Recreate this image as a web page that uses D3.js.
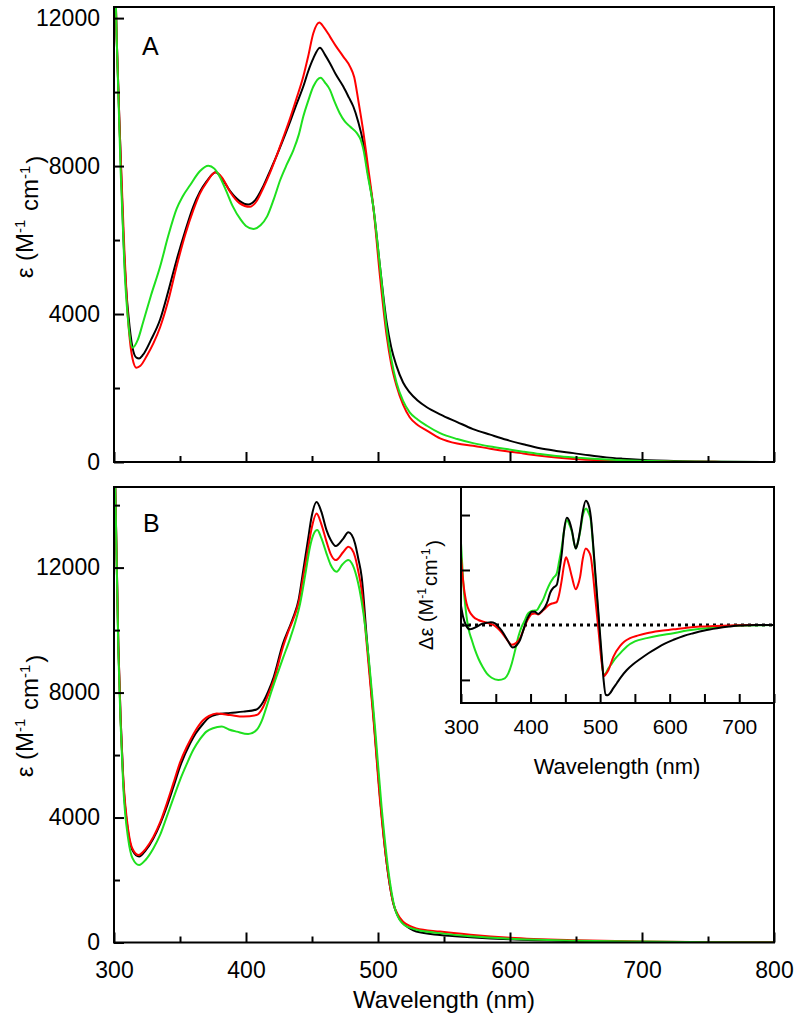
<!DOCTYPE html>
<html><head><meta charset="utf-8">
<script src="https://cdn.jsdelivr.net/npm/d3@7"></script>
<style>body{margin:0;background:#fff}</style>
</head><body><svg id="c" width="800" height="1022"></svg>
<script>
// ---------- DATA ----------
const wlTicksMain = [300,400,500,600,700,800];
const wlTicksMainMinor = [350,450,550,650,750];
const epsTicksA = [0,4000,8000,12000];
const epsTicksAMinor = [2000,6000,10000];
const epsTicksB = [0,4000,8000,12000];
const epsTicksBMinor = [2000,6000,10000,14000];
const wlTicksInset = [300,350,400,450,500,550,600,650,700,750];
const dEpsTicksInset = [-1,0,1,2];
const seriesNames = ["black","red","green"];
const seriesColors = ["#000000","#ff0000","#1ee01e"];

// Panel A (wavelength nm, epsilon M-1 cm-1)
const aBlack = [[300,14500],[302,11500],[305,8300],[307,6200],[309,4800],[311,3940],[314,3100],[317,2820],[319,2800],[322,2900],[328,3300],[335,3860],[341,4600],[347.5,5470],[354,6250],[360,6900],[365,7300],[370,7580],[377,7830],[382,7650],[388,7320],[395,7060],[401.7,6960],[407,7080],[413,7450],[418,7850],[423,8260],[428,8700],[433,9160],[438,9650],[443.4,10150],[447,10550],[451,10910],[456,11200],[460,11000],[463.6,10780],[468,10480],[473.7,10150],[478,9850],[481.3,9610],[485,9200],[488.9,8620],[492,7900],[496.4,6910],[501.5,5290],[506.6,3770],[510,3100],[514,2600],[519,2150],[524,1880],[530,1660],[537,1480],[547,1290],[560,1080],[572,890],[585,740],[597.5,600],[610,480],[622.7,370],[635,300],[648,240],[660,180],[673,125],[685,90],[698,60],[711,40],[724,30],[740,15],[760,5],[800,0]];
const aRed = [[300,14500],[302,11500],[305,8300],[308,5600],[310,4200],[312,3300],[314,2800],[317,2550],[320,2600],[325,2880],[330,3220],[335,3650],[341,4350],[347.5,5300],[354,6150],[360,6800],[365,7250],[370,7550],[377,7830],[382,7680],[388,7300],[395,7000],[403,6900],[408,7050],[413,7400],[418,7800],[423,8260],[428,8750],[433,9250],[438,9800],[443.4,10420],[447,10950],[451,11590],[455.5,11880],[459,11750],[463.6,11500],[468,11250],[473.7,10960],[478.8,10690],[482,10400],[485,9790],[489,8900],[492,8100],[496.4,6910],[501.5,5020],[506.6,3400],[510,2650],[514,2060],[519,1550],[524,1210],[530,1000],[537,850],[547,640],[560,500],[572,440],[585,360],[597.5,290],[610,230],[622.7,170],[635,120],[648,80],[673,40],[698,20],[724,10],[760,3],[800,0]];
const aGreen = [[300,14500],[302,11500],[305,7900],[308,5200],[311,3700],[314,3090],[318,3300],[322,3770],[328,4500],[335,5290],[341,6100],[347.5,6850],[352,7180],[357.6,7480],[365,7860],[371.5,8010],[376,7930],[380,7720],[385,7330],[390,6910],[396,6550],[400,6380],[405.6,6300],[411,6400],[416,6640],[421,7100],[426,7630],[431,8050],[436,8440],[440,8850],[443.4,9340],[447,9750],[451,10150],[456.6,10390],[460,10250],[463.6,10060],[467,9750],[471,9430],[475,9200],[478.8,9070],[484,8890],[487,8700],[489,8440],[492,7800],[496.4,6910],[501.5,5290],[506.6,3590],[510,2800],[514,2150],[519,1650],[524,1340],[530,1150],[537,980],[547,780],[560,620],[572,510],[585,420],[597.5,350],[610,280],[622.7,215],[635,165],[648,125],[660,95],[673,70],[698,35],[724,15],[750,5],[800,0]];

// Panel B
const bBlack = [[300,16000],[301,14500],[303.3,9500],[305,7200],[307,5200],[310.8,3500],[314,2950],[319,2750],[324,2950],[329.8,3330],[335,3800],[340,4350],[345,4980],[350,5630],[357.6,6370],[362,6700],[367.7,7010],[372,7200],[377.8,7300],[388,7350],[398,7390],[408,7460],[413,7700],[417,8050],[421,8500],[428,9570],[432,10000],[436,10430],[440,11000],[443.4,11920],[447,12900],[449.7,13630],[453.5,14100],[457,13800],[461,13200],[464,12900],[468,12690],[473.7,12930],[477.5,13130],[480,13050],[482.6,12770],[485,12300],[487.6,11710],[491.4,9790],[496.4,7330],[501.5,4670],[506.6,2530],[511.6,1250],[515,850],[519,610],[524,450],[529,350],[547,240],[570,170],[600,100],[650,40],[700,10],[750,3],[800,0]];
const bRed = [[300,16000],[301,14500],[303.3,9500],[305,7200],[307,5300],[310.8,3600],[314,3000],[318.5,2800],[324,3000],[329.8,3380],[335,3850],[340,4450],[345,5100],[350,5760],[355,6250],[358,6500],[362,6800],[367.7,7120],[372,7250],[377.8,7330],[388,7280],[398,7230],[408,7280],[413,7540],[417,7950],[421,8390],[428,9460],[432,9950],[436,10370],[440,10900],[443.4,11710],[447,12600],[449.7,13250],[453.5,13730],[457,13400],[461,12830],[464,12450],[468,12240],[473.7,12500],[477.5,12670],[480,12600],[482.6,12350],[485,11900],[487.6,11280],[491.4,9570],[496.4,7230],[501.5,4560],[506.6,2530],[511.6,1250],[515,900],[519,670],[524,530],[529,450],[547,350],[570,250],[600,150],[650,70],[700,30],[750,15],[800,5]];
const bGreen = [[300,16000],[301,14500],[303.3,9300],[305,7000],[307,5000],[310.8,3300],[314,2700],[319,2480],[324,2650],[329.8,3010],[335,3450],[340,4030],[345,4620],[350,5200],[355,5700],[360,6160],[365,6500],[370,6750],[375,6860],[381.6,6910],[387,6820],[393,6750],[401.6,6670],[408,6800],[412,7100],[415.6,7550],[419,8000],[423,8500],[428,9100],[433,9680],[437,10200],[441,10850],[445,11800],[448.5,12670],[451,13050],[454,13200],[457,12950],[461,12450],[464,12100],[468.7,11870],[473,12100],[477.5,12240],[480,12150],[483.8,11710],[486,11300],[489,10530],[492.6,9250],[497.7,6900],[502.7,4350],[507.8,2320],[512.8,1090],[516,750],[520,560],[525,460],[530,400],[547,300],[570,200],[600,120],[650,60],[700,30],[750,10],[800,0]];

// Inset (difference spectra, arbitrary tick units)
const iBlack = [[300,0.35],[303,0.15],[307,0.0],[313,-0.08],[323,-0.03],[330,0.02],[337,0.04],[343,0.05],[349,0.03],[355,-0.05],[361,-0.15],[368,-0.3],[374.4,-0.41],[380,-0.37],[385,-0.27],[390,-0.08],[394.5,0.09],[398,0.18],[401.7,0.24],[406,0.24],[411,0.2],[416,0.25],[421,0.33],[425,0.45],[428,0.58],[433,0.68],[437.7,0.73],[441,0.95],[444.9,1.3],[448,1.7],[452,1.95],[456,1.88],[459.3,1.73],[465,1.39],[468,1.5],[471.3,1.73],[475,2.05],[479.4,2.26],[483,2.2],[486.6,1.97],[489.5,1.55],[492.8,1.0],[497.6,0.21],[502.4,-0.58],[505,-1.0],[508,-1.27],[511,-1.28],[514.4,-1.24],[519,-1.15],[524,-1.06],[530,-0.95],[538.4,-0.82],[547,-0.72],[557.6,-0.62],[570,-0.51],[581.6,-0.42],[593,-0.34],[605.5,-0.27],[620,-0.2],[634,-0.15],[650,-0.1],[668,-0.06],[685,-0.03],[700,-0.01],[725,0],[750,0]];
const iRed = [[300,1.24],[303.4,0.76],[308,0.39],[312,0.25],[317.7,0.15],[325,0.09],[332,0.06],[340,0.03],[346.6,0.0],[352,-0.05],[358.6,-0.14],[365,-0.25],[373,-0.36],[379,-0.33],[385,-0.24],[390,-0.08],[394.5,0.06],[398,0.14],[401.7,0.2],[406,0.21],[411,0.19],[416,0.24],[421,0.3],[426,0.36],[430.7,0.39],[434,0.4],[437.7,0.42],[441,0.55],[444.9,0.82],[448,1.08],[451,1.23],[455,1.1],[459.3,0.88],[465,0.65],[468,0.72],[471.3,0.88],[475,1.2],[479.4,1.39],[483,1.35],[486.6,1.24],[489.5,0.95],[492.8,0.52],[497.6,-0.09],[502.4,-0.7],[505.7,-0.93],[508,-0.9],[512,-0.82],[519,-0.58],[528.8,-0.38],[535,-0.3],[543,-0.24],[555,-0.19],[567,-0.15],[585,-0.11],[605.5,-0.08],[625,-0.05],[644,-0.03],[665,-0.02],[687,-0.01],[720,0],[750,0]];
const iGreen = [[300,1.49],[303,0.82],[308,0.15],[311,-0.08],[315.4,-0.27],[320,-0.45],[325,-0.61],[331,-0.76],[337,-0.88],[344,-0.96],[353.7,-1.0],[363,-0.97],[368,-0.88],[373,-0.7],[378,-0.45],[382.5,-0.21],[387,-0.04],[392,0.09],[395,0.18],[399.5,0.24],[404,0.26],[409,0.27],[414,0.37],[418.7,0.48],[423,0.62],[428,0.76],[433,0.86],[437.7,0.94],[441,1.15],[444.9,1.42],[448,1.7],[452,1.91],[456,1.82],[459.3,1.7],[465,1.39],[468,1.5],[471.3,1.7],[475,1.98],[480,2.12],[483,2.05],[486.6,1.91],[489.5,1.5],[492.8,0.94],[497.6,0.15],[502.4,-0.64],[505,-0.91],[508,-0.88],[512,-0.79],[517,-0.7],[522,-0.61],[530,-0.5],[538.4,-0.39],[550,-0.3],[567,-0.24],[585,-0.19],[605.5,-0.15],[625,-0.1],[644,-0.07],[665,-0.04],[687,-0.02],[710,-0.01],[750,0]];

// ---------- DRAW ----------
const FONT = "Arial, 'Liberation Sans', sans-serif";
const svg = d3.select("#c");
svg.append("rect").attr("width",800).attr("height",1022).attr("fill","#fff");

const xA = d3.scaleLinear().domain([300,800]).range([114,774]);
const yA = d3.scaleLinear().domain([0,12300]).range([462,7]);
const yB = d3.scaleLinear().domain([0,14580]).range([942.5,487]);
const xI = d3.scaleLinear().domain([300,750]).range([461,774]);
const yI = d3.scaleLinear().domain([-1.42,2.51]).range([703,487]);

let clipId = 0;
function drawPanel(x, y, series, order, opt) {
  const g = svg.append("g");
  const [x0,x1] = x.range(); const [yb,yt] = y.range();
  if (opt.fill) g.append("rect").attr("x",x0).attr("y",yt).attr("width",x1-x0).attr("height",yb-yt).attr("fill","#fff");
  const id = "clip"+(clipId++);
  g.append("clipPath").attr("id",id).append("rect").attr("x",x0).attr("y",yt).attr("width",x1-x0).attr("height",yb-yt);
  const plot = g.append("g").attr("clip-path",`url(#${id})`);
  if (opt.zeroLine) {
    plot.append("line").attr("x1",x0).attr("x2",x1).attr("y1",y(0)).attr("y2",y(0))
      .attr("stroke","#000").attr("stroke-width",3).attr("stroke-dasharray","3,4");
  }
  const line = d3.line().x(d=>x(d[0])).y(d=>y(d[1])).curve(d3.curveMonotoneX);
  order.forEach(i => {
    plot.append("path").datum(series[i]).attr("d",line).attr("fill","none")
      .attr("stroke",seriesColors[i]).attr("stroke-width",2).attr("stroke-linejoin","round");
  });
  const style = sel => { sel.select(".domain").remove(); sel.selectAll("line").attr("stroke","#000").attr("stroke-width",2);
    sel.attr("font-family",FONT).attr("font-size",opt.fs); sel.selectAll("text").attr("fill","#000"); };
  if (opt.xMinor) g.append("g").attr("transform",`translate(0,${yb})`)
      .call(d3.axisBottom(x).tickValues(opt.xMinor).tickSize(-opt.minorLen).tickFormat("")).call(style);
  g.append("g").attr("transform",`translate(0,${yb})`)
      .call(d3.axisBottom(x).tickValues(opt.xTicks).tickSize(-opt.majorLen).tickPadding(opt.xPad)
        .tickFormat(opt.xFormat)).call(style);
  if (opt.yMinor) g.append("g").attr("transform",`translate(${x0},0)`)
      .call(d3.axisLeft(y).tickValues(opt.yMinor).tickSize(-opt.minorLen).tickFormat("")).call(style);
  g.append("g").attr("transform",`translate(${x0},0)`)
      .call(d3.axisLeft(y).tickValues(opt.yTicks).tickSize(-opt.majorLen).tickPadding(14)
        .tickFormat(opt.yFormat)).call(style);
  g.append("rect").attr("x",x0).attr("y",yt).attr("width",x1-x0).attr("height",yb-yt)
    .attr("fill","none").attr("stroke","#000").attr("stroke-width",2);
  return g;
}

function yTitle(cx, cy, main, fs) {
  const t = svg.append("text").attr("transform",`translate(${cx},${cy}) rotate(-90)`)
    .attr("text-anchor","middle").attr("font-family",FONT).attr("font-size",fs).attr("fill","#000");
  main.forEach(p => {
    if (p.sup) {
      t.append("tspan").attr("dy","-0.55em").attr("font-size",fs*0.62).text(p.t);
      t.append("tspan").attr("dy","0.55em").text("\u200A");
    } else t.append("tspan").text(p.t);
  });
}
function label(x, y, txt, fs, anchor) {
  svg.append("text").attr("x",x).attr("y",y).attr("text-anchor",anchor||"start")
    .attr("font-family",FONT).attr("font-size",fs).attr("fill","#000").text(txt);
}

const fmt = d3.format("d");
// Panel A
drawPanel(xA, yA, [aBlack,aRed,aGreen], [0,1,2], {
  xTicks: wlTicksMain, xMinor: wlTicksMainMinor, yTicks: epsTicksA, yMinor: epsTicksAMinor,
  xFormat: "", yFormat: fmt, majorLen: 10, minorLen: 6, xPad: 18, fs: 23 });
label(142, 55, "A", 25);
yTitle(33, 217, [{t:"\u03B5 (M"},{t:"-1",sup:1},{t:" cm"},{t:"-1",sup:1},{t:")"}], 24);

// Panel B
drawPanel(xA, yB, [bBlack,bRed,bGreen], [0,1,2], {
  xTicks: wlTicksMain, xMinor: wlTicksMainMinor, yTicks: epsTicksB, yMinor: epsTicksBMinor,
  xFormat: fmt, yFormat: fmt, majorLen: 10, minorLen: 6, xPad: 19, fs: 23 });
label(143, 532, "B", 25);
yTitle(33, 716, [{t:"\u03B5 (M"},{t:"-1",sup:1},{t:" cm"},{t:"-1",sup:1},{t:")"}], 24);
label(444, 1008, "Wavelength (nm)", 24, "middle");

// Inset
drawPanel(xI, yI, [iBlack,iRed,iGreen], [2,1,0], {
  xTicks: wlTicksInset, xMinor: null, yTicks: dEpsTicksInset, yMinor: null,
  xFormat: d => d % 100 === 0 ? d : "", yFormat: "", majorLen: 9, minorLen: 6, xPad: 16, fs: 21,
  fill: true, zeroLine: true });
yTitle(433, 595, [{t:"\u0394\u03B5 (M"},{t:"-1",sup:1},{t:"cm"},{t:"-1",sup:1},{t:")"}], 20);
label(617, 774, "Wavelength (nm)", 22, "middle");
</script></body></html>
